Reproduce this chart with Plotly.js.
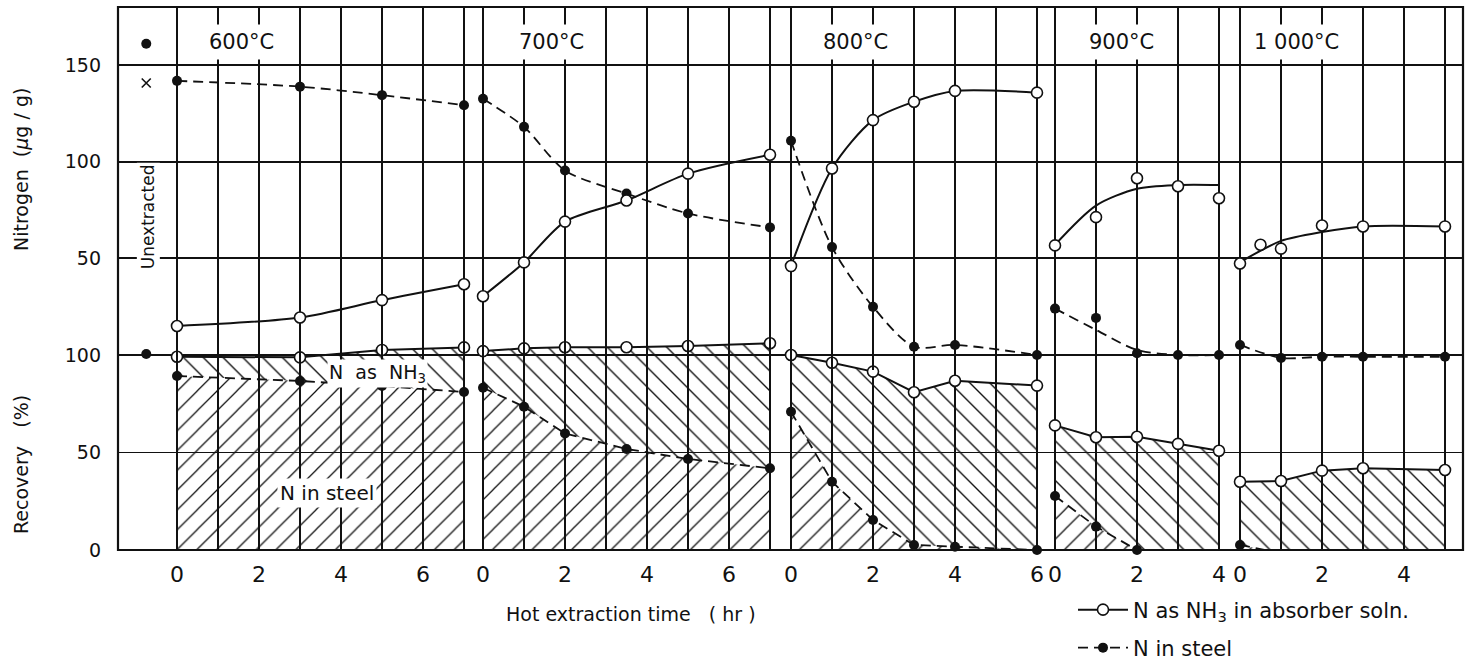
<!DOCTYPE html>
<html><head><meta charset="utf-8">
<script src="https://cdn.plot.ly/plotly-3.0.1.min.js"></script>
<style>html,body{margin:0;padding:0;background:#fff;} #chart{width:1473px;height:663px;}</style>
</head><body><div id="chart"></div>
<script>
// ---------------- data ----------------
const temps = ['600°C', '700°C', '800°C', '900°C', '1 000°C'];

// 600 °C
const t600 = [0, 3, 5, 7];
const nh3N600 = [15, 19.4, 28.4, 36.6];
const steelN600 = [141.8, 138.8, 134.4, 129.2];
const totalR600 = [99.1, 98.8, 102.6, 103.9];
const steelR600 = [89.2, 86.7, 84.1, 81];

// 700 °C
const t700 = [0, 1, 2, 3.5, 5, 7];
const nh3N700 = [30.4, 47.9, 69, 79.9, 93.8, 103.6];
const steelN700 = [132.5, 118, 95.4, 83.5, 73.2, 66];
const totalR700 = [102, 103.4, 104, 104, 104.6, 106];
const steelR700 = [83.2, 73.5, 59.8, 51.8, 46.7, 41.9];

// 800 °C
const t800 = [0, 1, 2, 3, 4, 6];
const nh3N800 = [46, 96.5, 121.5, 131, 136.6, 135.7];
const steelN800 = [110.8, 55.8, 24.9, 4.3, 5.2, 0];
const totalR800 = [100, 96, 91.5, 80.9, 86.8, 84.3];
const steelR800 = [70.9, 35, 15.4, 2.6, 1.7, 0];

// 900 °C
const t900 = [0, 1, 2, 3, 4];
const nh3N900 = [56.7, 71.3, 91.4, 87.3, 81.1];
const nh3Curve900 = [57, 77.3, 86, 87.9, 87.9];
const steelN900 = [24, 19.2, 0.9, 0, 0];
const steelCurve900 = [24, 13, 2.6, 0, 0];
const totalR900 = [63.9, 57.8, 58.1, 54.4, 50.9];
const tSteelR900 = [0, 1, 2];
const steelR900 = [27.7, 12, 0];

// 1 000 °C
const tN1000 = [0, 0.5, 1, 2, 3, 5];
const nh3N1000 = [47.3, 57, 55, 67, 66.5, 66.5];
const tCurve1000 = [0, 1, 2, 3, 5];
const nh3Curve1000 = [48, 59, 63.6, 66.5, 66.5];
const t1000 = [0, 1, 2, 3, 5];
const steelN1000 = [5.2, -1.5, -0.9, -0.9, -0.9];
const totalR1000 = [35, 35.4, 40.7, 41.9, 41];
const tSteelR1000 = [0, 1];
const steelR1000 = [2.6, -1.7];

// initial (before extraction), plotted left of the 600 °C panel
const tInit = [-0.75];
const initN_dot = [161];
const initN_cross = [140.7];
const initR_dot = [100.5];

// axis tick values (hours) per panel
const maxHours = [7, 7, 6, 4, 5];
const recoveryTicks = [0, 50, 100];
const nitrogenTicks = [50, 100, 150];

// ---------------- layout geometry ----------------
const FONT = 'DejaVu Sans';
const INK = '#111';
const NB = '\u00a0';
const PL = 118, PR = 1463, PW = PR - PL, PT = 7, PB = 550, PH = PB - PT;
const SPH = 41;                                   // px per hour
const zeroPx = [177, 483, 791, 1055, 1240];       // pixel of t = 0 in each panel
const bounds = [118, 473, 780, 1045, 1230, 1463]; // panel boundaries (px)
const RPX = 1.95, NPX = 1.9333;                   // px per unit (recovery, nitrogen)
const recTop = 112, nitBottom = -8, nitTop = 180;
const GW = 1.7;

const axes = ['x', 'x2', 'x3', 'x4', 'x5'];
const layout = {
  width: 1473, height: 663,
  margin: {l: PL, r: 1473 - PR, t: PT, b: 663 - PB, pad: 0, autoexpand: false},
  paper_bgcolor: '#fff', plot_bgcolor: 'rgba(0,0,0,0)',
  font: {family: FONT, color: INK, size: 18},
  showlegend: true,
  annotations: [], shapes: []
};

for (let k = 0; k < 5; k++) {
  const even = [], odd = [];
  for (let i = 0; i <= maxHours[k]; i++) { (i % 2 === 0 ? even : odd).push(i); }
  layout[k === 0 ? 'xaxis' : 'xaxis' + (k + 1)] = {
    domain: [(bounds[k] - PL) / PW, (bounds[k + 1] - PL) / PW],
    range: [(bounds[k] - zeroPx[k]) / SPH, (bounds[k + 1] - zeroPx[k]) / SPH],
    anchor: 'y', tickmode: 'array', tickvals: even, ticktext: even.map(String),
    minor: {tickmode: 'array', tickvals: odd, showgrid: true, gridcolor: INK, gridwidth: GW, ticks: ''},
    showgrid: true, gridcolor: INK, gridwidth: GW, zeroline: false, showline: false,
    ticks: '', ticklabelstandoff: 9, tickfont: {size: 22, family: FONT, color: INK}, fixedrange: true
  };
}
layout.yaxis = {
  domain: [0, recTop * RPX / PH], range: [0, recTop], anchor: 'x',
  tickmode: 'array', tickvals: recoveryTicks, ticktext: recoveryTicks.map(String),
  showgrid: true, gridcolor: INK, gridwidth: GW, zeroline: false, showline: false,
  ticks: '', ticklabelstandoff: 16, tickfont: {size: 19, family: FONT, color: INK}, fixedrange: true
};
const nitZeroPx = PB - 100 * RPX;
layout.yaxis2 = {
  domain: [(PB - (nitZeroPx - nitBottom * NPX)) / PH, 1], range: [nitBottom, nitTop], anchor: 'x',
  tickmode: 'array', tickvals: nitrogenTicks, ticktext: nitrogenTicks.map(String),
  showgrid: true, gridcolor: INK, gridwidth: GW, zeroline: false, showline: false,
  ticks: '', ticklabelstandoff: 16, tickfont: {size: 19, family: FONT, color: INK}, fixedrange: true
};

// frame
layout.shapes.push({type: 'rect', xref: 'paper', yref: 'paper', x0: 0, x1: 1, y0: 0, y1: 1,
  line: {color: INK, width: 2.2}, layer: 'above'});

// ---------------- traces ----------------
const openM = {symbol: 'circle', size: 11, color: '#fff', line: {color: INK, width: 1.6}};
const fillM = {symbol: 'circle', size: 10, color: INK, line: {color: INK, width: 0}};
const solid = {color: INK, width: 2, shape: 'spline', smoothing: 0.8};
const dashed = {color: INK, width: 1.8, dash: '10px,6px', shape: 'spline', smoothing: 0.8};
const solidLin = {color: INK, width: 2};
const dashedLin = {color: INK, width: 1.8, dash: '10px,6px'};
const hatchBack = {shape: '\\', size: 14, solidity: 0.1, fgcolor: INK, bgcolor: 'rgba(0,0,0,0)'};
const hatchFwd = {shape: '/', size: 14, solidity: 0.09, fgcolor: INK, bgcolor: 'rgba(0,0,0,0)'};

const traces = [];
function add(o) { traces.push(Object.assign({cliponaxis: false, showlegend: false, hoverinfo: 'skip'}, o)); }

function nh3Region(tT, tR, sT, sR) {
  const x = tT.slice(), y = tR.slice();
  if (sT[sT.length - 1] < tT[tT.length - 1]) { x.push(tT[tT.length - 1]); y.push(0); }
  for (let i = sT.length - 1; i >= 0; i--) { x.push(sT[i]); y.push(sR[i]); }
  return {x, y};
}

function bottom(ax, tT, tR, sT, sR) {
  const reg = nh3Region(tT, tR, sT, sR);
  add({x: reg.x, y: reg.y, xaxis: ax, yaxis: 'y', mode: 'none', fill: 'toself',
       fillcolor: 'rgba(0,0,0,0)', fillpattern: hatchBack});
  add({x: sT, y: sR, xaxis: ax, yaxis: 'y', mode: 'lines+markers', fill: 'tozeroy',
       fillcolor: 'rgba(0,0,0,0)', fillpattern: hatchFwd, line: dashedLin, marker: fillM});
  add({x: tT, y: tR, xaxis: ax, yaxis: 'y', mode: 'lines+markers', line: solidLin, marker: openM});
}

// 600
bottom('x', t600, totalR600, t600, steelR600);
add({x: t600, y: steelN600, xaxis: 'x', yaxis: 'y2', mode: 'lines+markers', line: dashed, marker: fillM,
     name: 'N' + NB + 'in' + NB + 'steel', showlegend: true, legend: 'legend2'});
add({x: t600, y: nh3N600, xaxis: 'x', yaxis: 'y2', mode: 'lines+markers', line: solid, marker: openM,
     name: 'N' + NB + 'as' + NB + 'NH<sub>3</sub>' + NB + 'in' + NB + 'absorber' + NB + 'soln.', showlegend: true, legend: 'legend'});
add({x: tInit, y: initN_dot, xaxis: 'x', yaxis: 'y2', mode: 'markers', marker: fillM});
add({x: tInit, y: initN_cross, xaxis: 'x', yaxis: 'y2', mode: 'markers',
     marker: {symbol: 'x-thin', size: 9, line: {color: INK, width: 1.6}}});
add({x: tInit, y: initR_dot, xaxis: 'x', yaxis: 'y', mode: 'markers', marker: fillM});

// 700
bottom('x2', t700, totalR700, t700, steelR700);
add({x: t700, y: steelN700, xaxis: 'x2', yaxis: 'y2', mode: 'lines+markers', line: dashed, marker: fillM});
add({x: t700, y: nh3N700, xaxis: 'x2', yaxis: 'y2', mode: 'lines+markers', line: solid, marker: openM});

// 800
bottom('x3', t800, totalR800, t800, steelR800);
add({x: t800, y: steelN800, xaxis: 'x3', yaxis: 'y2', mode: 'lines+markers', line: dashed, marker: fillM});
add({x: t800, y: nh3N800, xaxis: 'x3', yaxis: 'y2', mode: 'lines+markers', line: solid, marker: openM});

// 900
bottom('x4', t900, totalR900, tSteelR900, steelR900);
add({x: t900, y: steelCurve900, xaxis: 'x4', yaxis: 'y2', mode: 'lines', line: dashed});
add({x: t900, y: steelN900, xaxis: 'x4', yaxis: 'y2', mode: 'markers', marker: fillM});
add({x: t900, y: nh3Curve900, xaxis: 'x4', yaxis: 'y2', mode: 'lines', line: solid});
add({x: t900, y: nh3N900, xaxis: 'x4', yaxis: 'y2', mode: 'markers', marker: openM});

// 1000
bottom('x5', t1000, totalR1000, tSteelR1000, steelR1000);
add({x: t1000, y: steelN1000, xaxis: 'x5', yaxis: 'y2', mode: 'lines+markers', line: dashed, marker: fillM});
add({x: tCurve1000, y: nh3Curve1000, xaxis: 'x5', yaxis: 'y2', mode: 'lines', line: solid});
add({x: tN1000, y: nh3N1000, xaxis: 'x5', yaxis: 'y2', mode: 'markers', marker: openM});

// ---------------- text ----------------
const labelT = [1.58, 1.68, 1.58, 1.61, 1.37];
for (let k = 0; k < 5; k++) {
  layout.annotations.push({xref: axes[k], yref: 'y2', x: labelT[k], y: 162, text: temps[k],
    xanchor: 'center', yanchor: 'middle',
    showarrow: false, bgcolor: '#fff', borderpad: 5, font: {size: 21, family: FONT, color: INK}});
}
const ann = (o) => layout.annotations.push(Object.assign({showarrow: false, xanchor: 'center', yanchor: 'middle'}, o));
ann({xref: 'x', yref: 'y2', x: -0.7, y: 71.4, text: 'Unextracted', textangle: -90,
     bgcolor: '#fff', borderpad: 1, font: {size: 17, family: FONT, color: INK}});
ann({xref: 'x', yref: 'y', x: 4.9, y: 90.3, text: 'N' + NB + NB + 'as' + NB + NB + 'NH<sub>3</sub>',
     bgcolor: '#fff', borderpad: 1, font: {size: 19, family: FONT, color: INK}});
ann({xref: 'x', yref: 'y', x: 3.65, y: 29.2, text: 'N' + NB + 'in' + NB + 'steel',
     bgcolor: '#fff', borderpad: 2, font: {size: 20, family: FONT, color: INK}});
ann({xref: 'paper', yref: 'paper', x: (21 - PL) / PW, y: (PB - 170) / PH,
     text: 'Nitrogen' + NB + NB + '(<i>μ</i>g' + NB + '/' + NB + 'g)',
     textangle: -90, font: {size: 19, family: FONT, color: INK}});
ann({xref: 'paper', yref: 'paper', x: (21 - PL) / PW, y: (PB - 465) / PH,
     text: 'Recovery' + NB + NB + NB + '(%)',
     textangle: -90, font: {size: 19, family: FONT, color: INK}});
ann({xref: 'paper', yref: 'paper', x: (631 - PL) / PW, y: (PB - 614) / PH,
     text: 'Hot' + NB + 'extraction' + NB + 'time' + NB + NB + NB + '(' + NB + 'hr' + NB + ')',
     font: {size: 19, family: FONT, color: INK}});

layout.legend = {x: (1073 - PL) / PW, xanchor: 'left', y: (PB - 610) / PH, yanchor: 'middle',
  bgcolor: 'rgba(0,0,0,0)', font: {size: 21, family: FONT, color: INK}, itemwidth: 50};
layout.legend2 = {x: (1073 - PL) / PW, xanchor: 'left', y: (PB - 648) / PH, yanchor: 'middle',
  bgcolor: 'rgba(0,0,0,0)', font: {size: 21, family: FONT, color: INK}, itemwidth: 50};

Plotly.newPlot('chart', traces, layout, {staticPlot: true, displayModeBar: false});
</script>
</body></html>
